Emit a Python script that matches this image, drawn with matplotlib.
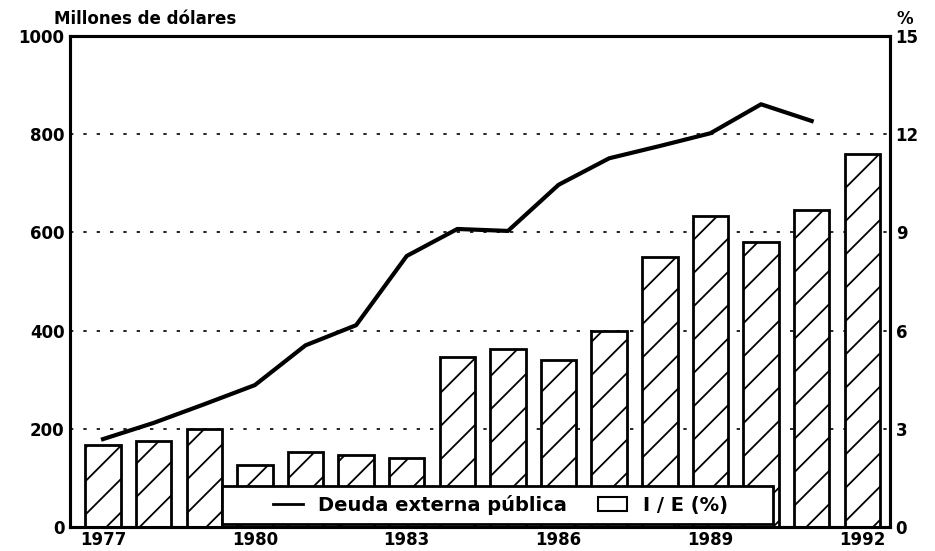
import numpy as np
import matplotlib
matplotlib.use("Agg")
import matplotlib.pyplot as plt
from matplotlib.lines import Line2D
from matplotlib.patches import Patch, Rectangle

# datos
years = [1977, 1978, 1979, 1980, 1981, 1982, 1983, 1984,
         1985, 1986, 1987, 1988, 1989, 1990, 1991, 1992]
ie_pct = [2.5, 2.63, 3.0, 1.9, 2.3, 2.2, 2.1, 5.2,
          5.45, 5.1, 6.0, 8.25, 9.5, 8.7, 9.7, 11.4]
deuda_years = years[:-1]
deuda = [179, 212, 250, 289, 370, 411, 552, 607,
         603, 697, 751, 776, 802, 861, 827]
xtick_years = [1977, 1980, 1983, 1986, 1989, 1992]

plt.rcParams['font.family'] = 'DejaVu Sans'
plt.rcParams['font.weight'] = 'bold'
plt.rcParams['hatch.linewidth'] = 1.3

fig = plt.figure(figsize=(9.35, 5.51), dpi=100)
ax = fig.add_axes([0.075, 0.0436, 0.877, 0.891])
ax2 = ax.twinx()

# barras I/E (%) en el eje derecho
ax2.bar(years, ie_pct, width=0.7, facecolor='white', edgecolor='black',
        linewidth=2, hatch='/', zorder=2)
ax2.set_ylim(0, 15)
ax2.set_yticks([0, 3, 6, 9, 12, 15])

# linea deuda en el eje izquierdo
ax.set_ylim(0, 1000)
ax.set_yticks([0, 200, 400, 600, 800, 1000])
for g in [200, 400, 600, 800]:
    ax2.axhline(g * 15 / 1000, color='black', lw=1.2, ls=(0, (2, 6)), zorder=1)
ax2.plot(deuda_years, [d * 15 / 1000 for d in deuda], color='black', lw=3,
         solid_joinstyle='round', zorder=3)

ax.set_xlim(1976.35, 1992.55)
ax.set_xticks(xtick_years)
for a in (ax, ax2):
    a.tick_params(length=0, labelsize=12, pad=4)
    for s in a.spines.values():
        s.set_linewidth(2.2)
ax.tick_params(axis='x', pad=3)

fig.text(0.058, 0.965, "Millones de dólares", fontsize=12, fontweight='bold',
         ha='left', va='center')
fig.text(0.968, 0.965, "%", fontsize=12, fontweight='bold', ha='center', va='center')

# recuadro de la leyenda
box = Rectangle((0.185, 0.006), 0.672, 0.078, transform=ax2.transAxes,
                facecolor='white', edgecolor='black', linewidth=2, zorder=4)
ax2.add_patch(box)
handles = [Line2D([0], [0], color='black', lw=2),
           Patch(facecolor='white', edgecolor='black', linewidth=1.5)]
leg = ax2.legend(handles, ["Deuda externa pública", "I / E (%)"], ncol=2,
                 loc='center', bbox_to_anchor=(0.525, 0.045),
                 frameon=False, prop={'weight': 'bold', 'size': 14},
                 handlelength=1.5, handletextpad=0.8, columnspacing=1.6,
                 borderpad=0, borderaxespad=0)
leg.set_zorder(5)

fig.savefig("out.png", dpi=100)
